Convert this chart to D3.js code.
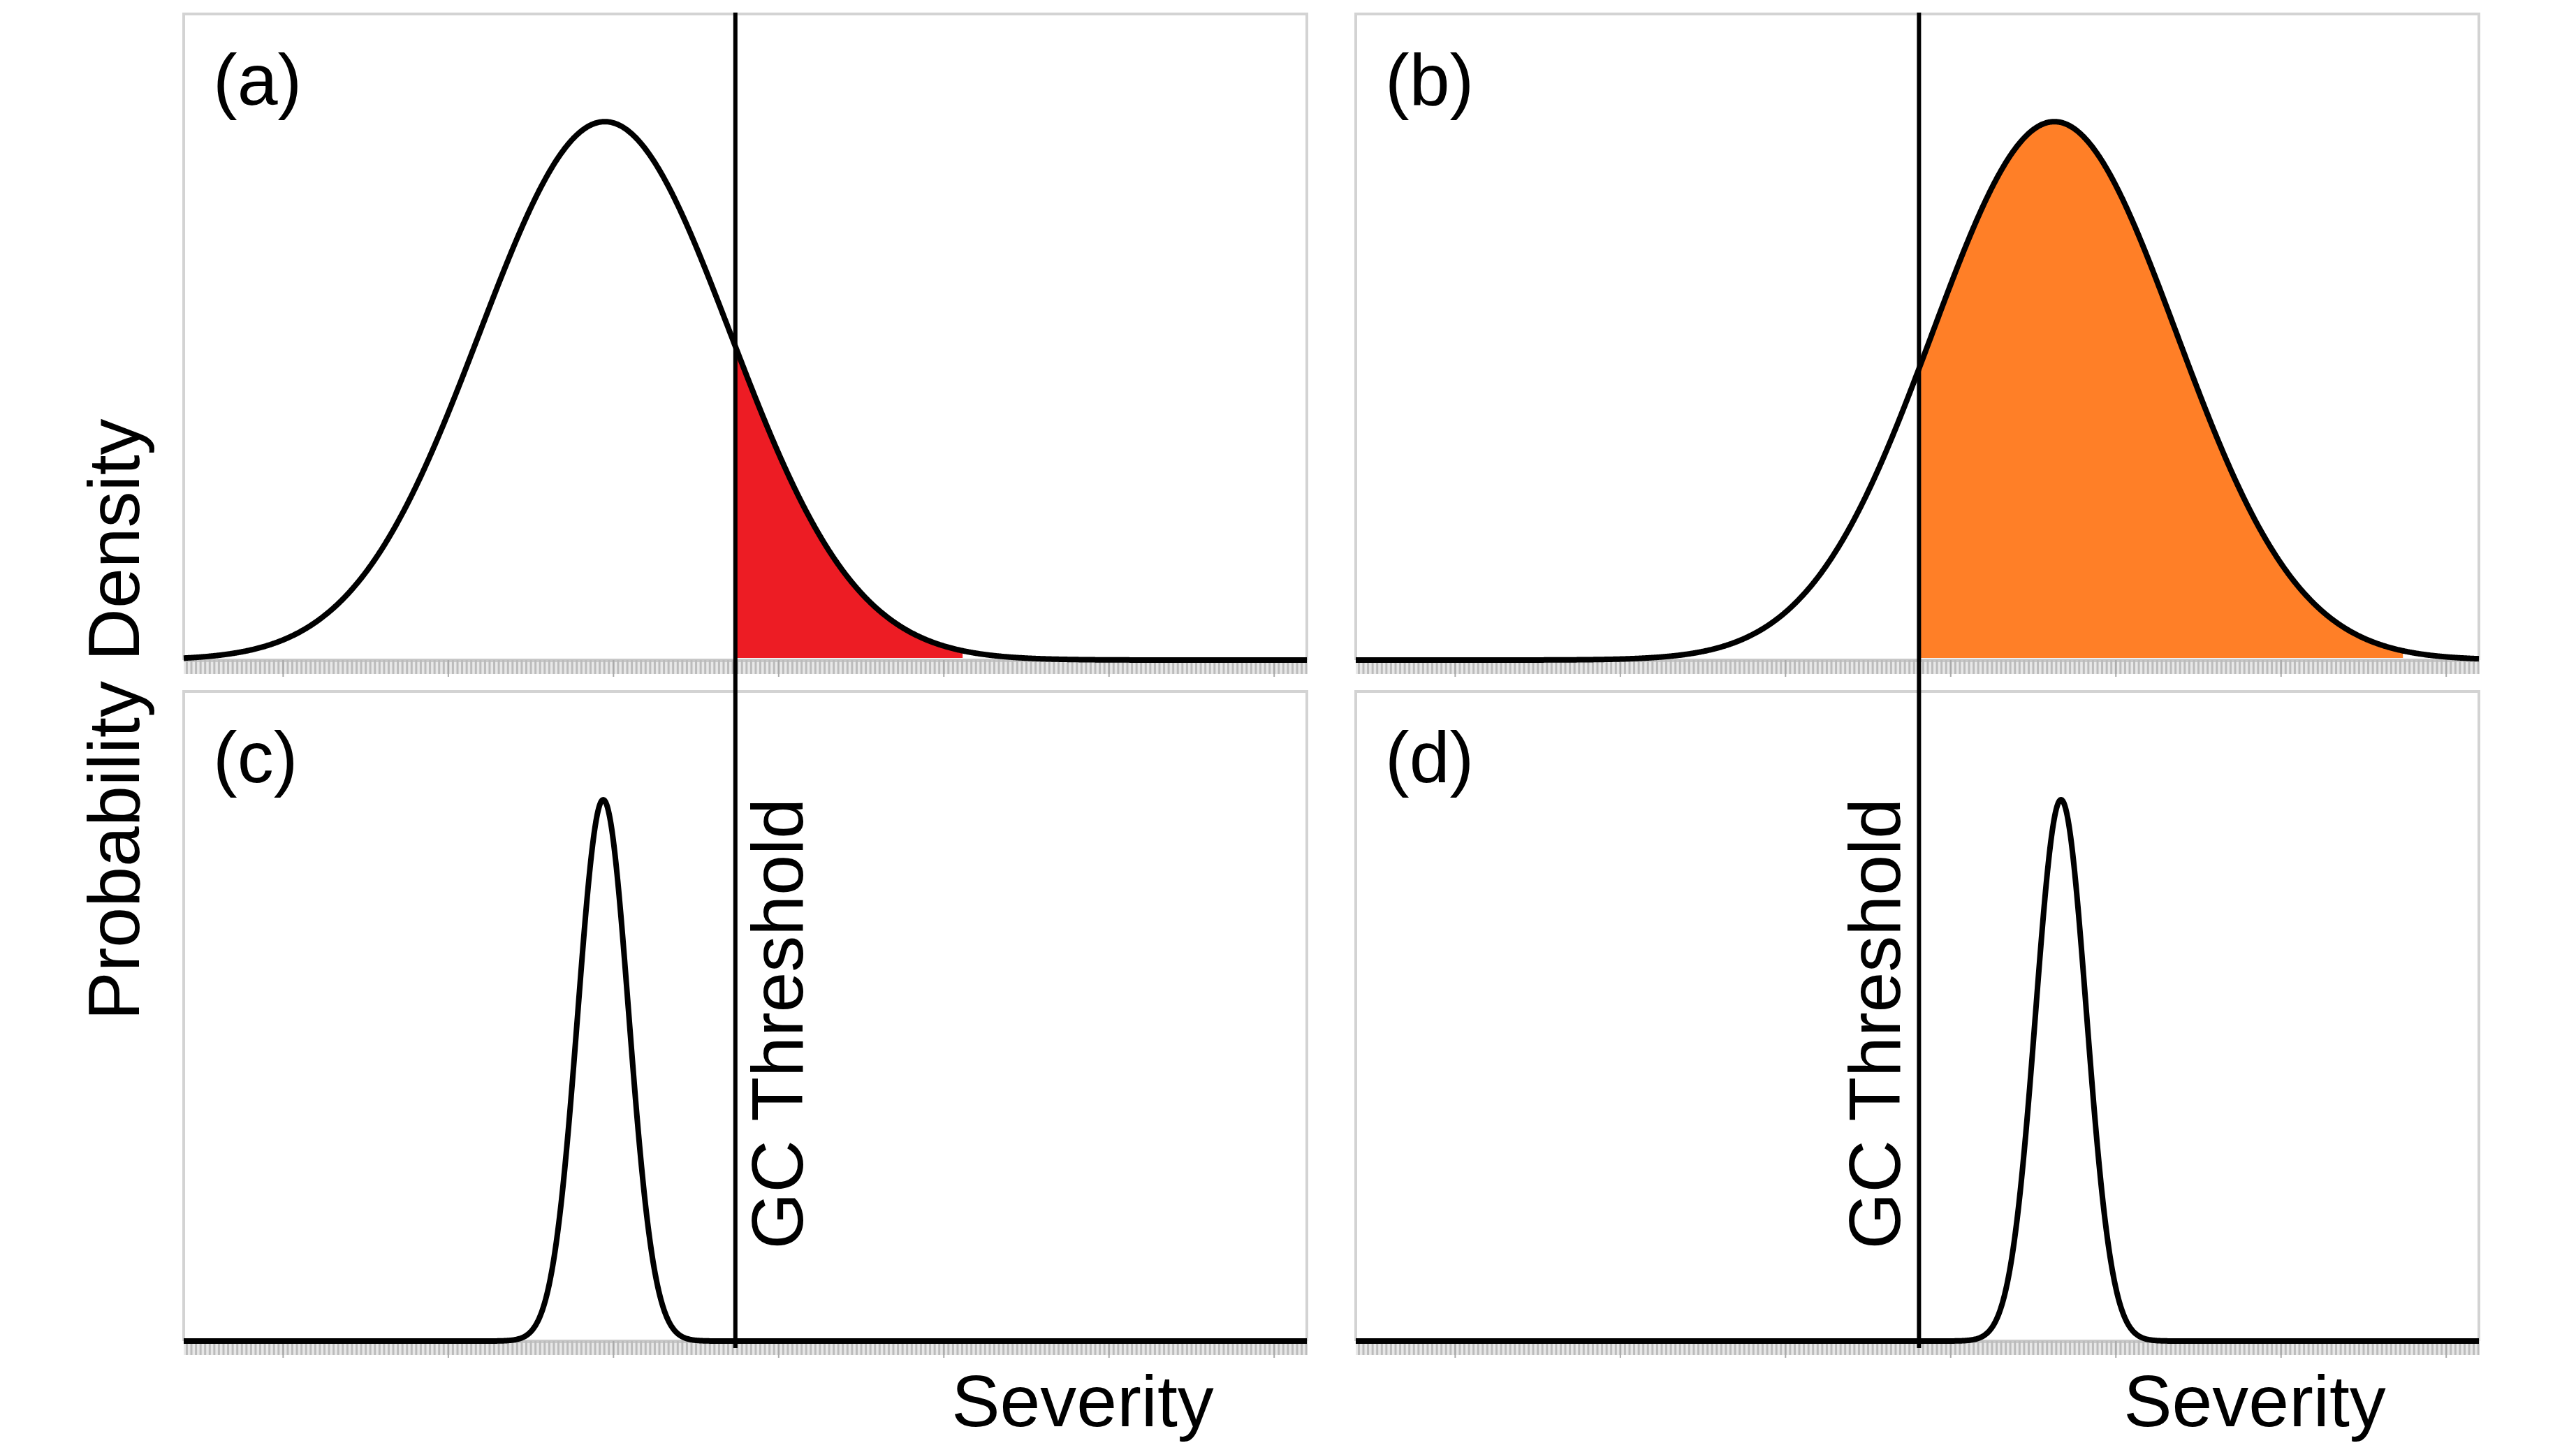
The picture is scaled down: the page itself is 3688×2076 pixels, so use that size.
<!DOCTYPE html>
<html>
<head>
<meta charset="utf-8">
<script src="https://cdn.jsdelivr.net/npm/d3@7"></script>
<style>
  html, body { margin: 0; padding: 0; background: #ffffff; }
  svg { display: block; font-family: "Liberation Sans", Arial, Helvetica, sans-serif; }
</style>
</head>
<body>
<svg id="chart" width="3688" height="2076"></svg>
<script>
// ---- data ----
const panelLabels = ["(a)", "(b)", "(c)", "(d)"];
const panelCol    = [0, 1, 0, 1];
const panelRow    = [0, 0, 1, 1];
const means       = [1.95, 3.63, 1.94, 3.67];   // severity units
const sds         = [0.76, 0.74, 0.154, 0.154];
const filled      = [true, true, false, false];
const fillColors  = ["#ED1C24", "#FF7F27", null, null];
const thresholds  = [2.74, 2.81];               // per column
const thresholdLabelSide = ["right", "left"];   // per column
const majorTicks  = [0, 1, 2, 3, 4, 5, 6];
const minorPerMajor = 36;
const xDomain = [-0.6, 6.2];
const yDomain = [0, 1.2];
const xLabel = "Severity";
const yLabel = "Probability Density";
const thresholdLabel = "GC Threshold";

// ---- layout ----
const colLeft = [263, 1941];
const panelW = 1608;
const rowTop = [20, 990];
const rowBase = [945, 1920];
const fontSize = 104;

const svg = d3.select("#chart");

function density(x, m, s) {
  const z = (x - m) / s;
  return Math.exp(-0.5 * z * z);
}

const xs = d3.range(xDomain[0], xDomain[1] + 1e-9, 0.004);
const minorTicks = d3.range(Math.ceil(xDomain[0] * minorPerMajor), Math.floor(xDomain[1] * minorPerMajor) + 1)
  .map(k => k / minorPerMajor);

panelLabels.forEach((lab, i) => {
  const c = panelCol[i], r = panelRow[i];
  const x = d3.scaleLinear().domain(xDomain).range([colLeft[c], colLeft[c] + panelW]);
  const y = d3.scaleLinear().domain(yDomain).range([rowBase[r], rowTop[r]]);
  const g = svg.append("g");

  // panel frame (top, left, right)
  g.append("path")
    .attr("d", `M${x.range()[0]},${y.range()[0]} V${y.range()[1]} H${x.range()[1]} V${y.range()[0]}`)
    .attr("fill", "none")
    .attr("stroke", "#d3d3d3")
    .attr("stroke-width", 4);

  // axis band background
  g.append("rect")
    .attr("x", x.range()[0]).attr("y", rowBase[r])
    .attr("width", panelW).attr("height", 20)
    .attr("fill", "#e8e8e8");

  // axis: minor ticks
  const minorAxis = d3.axisBottom(x).tickValues(minorTicks).tickSize(20).tickFormat("").tickSizeOuter(0);
  const ma = g.append("g").attr("transform", `translate(0,${rowBase[r]})`).call(minorAxis);
  ma.select(".domain").attr("stroke", "#c8c8c8").attr("stroke-width", 5);
  ma.selectAll(".tick line").attr("stroke", "#bcbcbc").attr("stroke-width", 3);

  // axis: major ticks
  const majorAxis = d3.axisBottom(x).tickValues(majorTicks).tickSize(24).tickFormat("").tickSizeOuter(0);
  const mj = g.append("g").attr("transform", `translate(0,${rowBase[r]})`).call(majorAxis);
  mj.select(".domain").remove();
  mj.selectAll(".tick line").attr("stroke", "#aaaaaa").attr("stroke-width", 2);

  const pts = xs.map(v => ({ x: v, d: density(v, means[i], sds[i]) }));

  // filled tail above threshold
  if (filled[i]) {
    const t = thresholds[c];
    const tail = [{ x: t, d: density(t, means[i], sds[i]) }]
      .concat(pts.filter(p => p.x > t));
    const area = d3.area()
      .defined(p => p.d > 0.017)
      .x(p => x(p.x))
      .y0(y(0) - 3)
      .y1(p => Math.min(y(p.d) + 3, y(0) - 3));
    g.append("path")
      .datum(tail)
      .attr("d", area)
      .attr("fill", fillColors[i]);
  }

  // density curve
  const line = d3.line().x(p => x(p.x)).y(p => y(p.d));
  g.append("path")
    .datum(pts)
    .attr("d", line)
    .attr("fill", "none")
    .attr("stroke", "#000")
    .attr("stroke-width", 8)
    .attr("stroke-linejoin", "round");

  // panel label
  g.append("text")
    .attr("x", x.range()[0] + 42)
    .attr("y", y.range()[1] + 130)
    .attr("font-size", fontSize)
    .attr("fill", "#000")
    .text(lab);
});

// threshold lines and labels, per column
[0, 1].forEach(c => {
  const x = d3.scaleLinear().domain(xDomain).range([colLeft[c], colLeft[c] + panelW]);
  const tx = x(thresholds[c]);
  svg.append("line")
    .attr("x1", tx).attr("x2", tx)
    .attr("y1", 18).attr("y2", 1930)
    .attr("stroke", "#000")
    .attr("stroke-width", 6);
  const bx = thresholdLabelSide[c] === "right" ? tx + 96 : tx - 27;
  svg.append("text")
    .attr("transform", `translate(${bx},1143) rotate(-90)`)
    .attr("text-anchor", "end")
    .attr("font-size", fontSize)
    .attr("fill", "#000")
    .text(thresholdLabel);

  // x label
  svg.append("text")
    .attr("x", colLeft[c] + 1287)
    .attr("y", 2042)
    .attr("text-anchor", "middle")
    .attr("font-size", fontSize)
    .attr("fill", "#000")
    .text(xLabel);
});

// y label
svg.append("text")
  .attr("transform", "translate(199,1030) rotate(-90)")
  .attr("text-anchor", "middle")
  .attr("font-size", fontSize)
  .attr("fill", "#000")
  .text(yLabel);
</script>
</body>
</html>
